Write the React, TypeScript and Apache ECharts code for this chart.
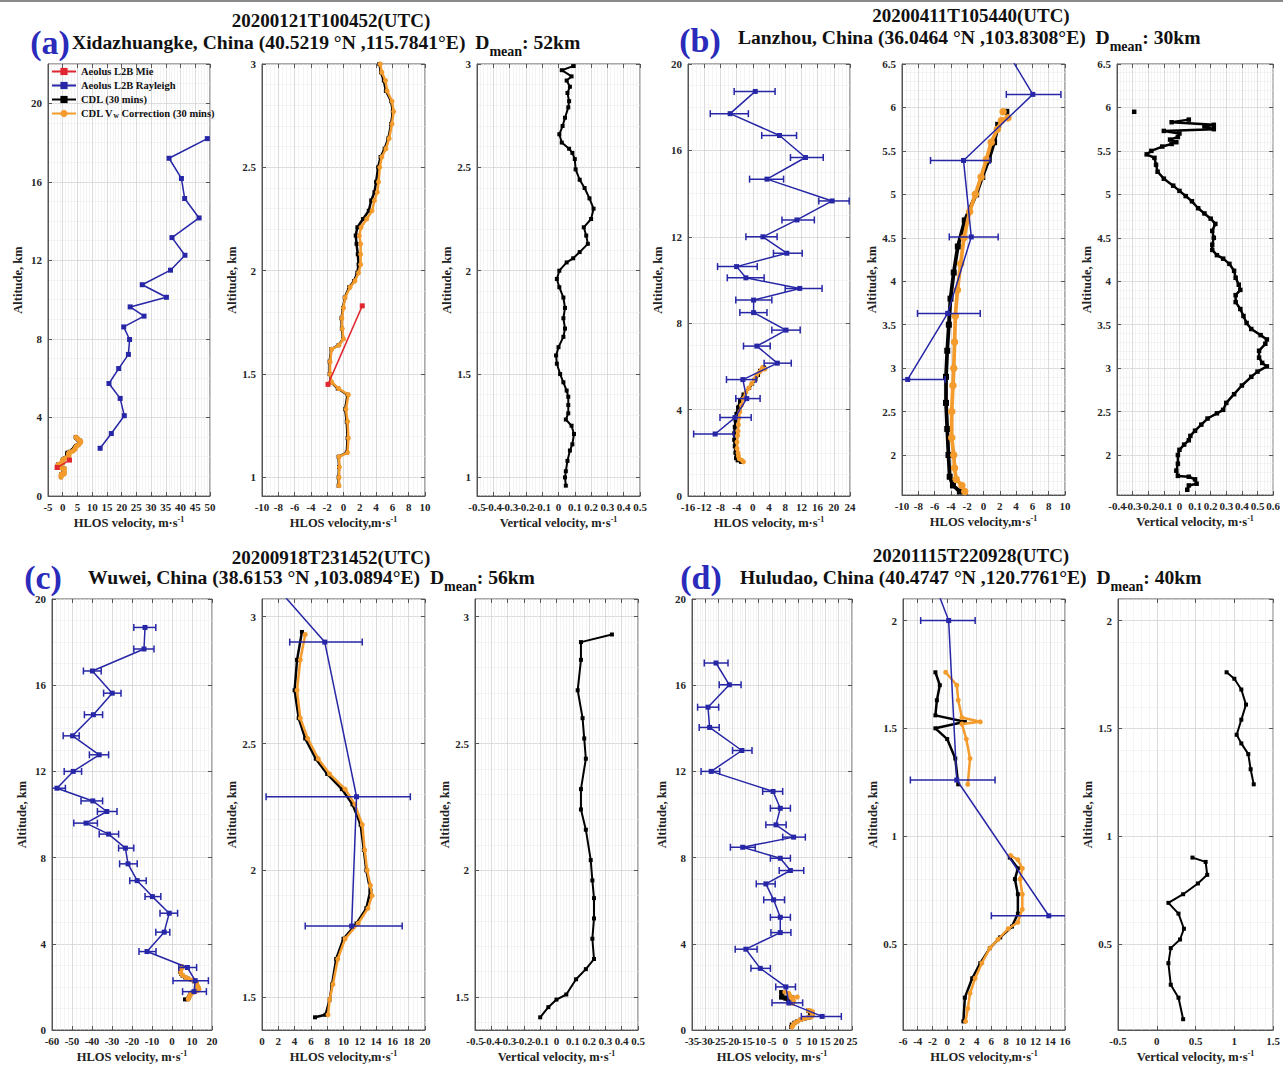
import React, { useEffect, useRef } from 'react';
import * as echarts from 'echarts';

const FONT = "'Liberation Serif', 'Times New Roman', Times, serif";
const BLUE = '#2626a6';
const RED = '#e0262e';
const ORANGE = '#f39b2d';
const BLACK = '#000000';
const LETTER_BLUE = '#2a2abb';

// ---------------- Panel (a) ----------------
const aRayleigh = [
  [12.7, 2.43], [16.5, 3.18], [20.9, 4.09], [19.5, 4.97], [15.7, 5.73], [19.0, 6.49], [22.3, 7.21],
  [22.7, 7.97], [20.7, 8.61], [27.6, 9.16], [22.9, 9.63], [35.2, 10.12], [27.0, 10.76], [36.6, 11.5],
  [41.5, 12.26], [37.1, 13.16], [46.3, 14.16], [41.4, 15.15], [40.3, 16.17], [36.1, 17.2], [49.1, 18.2],
];
const aMie = [[-1.9, 1.45], [2.3, 1.83]];
const aCdlVw = [
  [-0.55, 0.96], [-0.55, 1.0], [-0.5, 1.05], [-0.55, 1.1], [0.5, 1.12], [0.6, 1.19], [0.5, 1.27],
  [0.3, 1.33], [0.6, 1.4], [-0.6, 1.43], [-1.45, 1.46], [-1.65, 1.5], [-1.65, 1.56], [-1.45, 1.62],
  [-0.55, 1.64], [0.0, 1.67], [-0.15, 1.72], [-0.2, 1.77], [0.0, 1.82], [0.2, 1.87], [0.8, 1.92],
  [1.4, 1.95], [1.85, 1.99], [2.1, 2.03], [2.1, 2.08], [2.1, 2.13], [1.95, 2.17], [2.15, 2.21],
  [2.85, 2.25], [3.5, 2.29], [3.8, 2.34], [4.15, 2.38], [4.3, 2.43], [4.45, 2.5], [4.7, 2.55],
  [5.2, 2.59], [5.6, 2.64], [5.95, 2.71], [6.15, 2.77], [5.95, 2.82], [5.35, 2.87], [5.15, 2.92],
  [4.7, 2.96], [4.5, 3.0],
];
const aCdl = [
  [-0.6, 0.96], [-0.6, 1.0], [-0.55, 1.05], [-0.6, 1.1], [0.4, 1.12], [0.5, 1.19], [0.4, 1.27],
  [0.2, 1.33], [0.5, 1.4], [-0.7, 1.43], [-1.5, 1.46], [-1.7, 1.5], [-1.7, 1.56], [-1.5, 1.62],
  [-0.6, 1.64], [-0.05, 1.67], [-0.2, 1.72], [-0.25, 1.77], [-0.05, 1.82], [0.15, 1.87], [0.7, 1.92],
  [1.3, 1.95], [1.7, 1.99], [1.85, 2.03], [1.75, 2.08], [1.6, 2.13], [1.5, 2.17], [1.7, 2.21],
  [2.4, 2.25], [3.1, 2.29], [3.4, 2.34], [3.8, 2.38], [4.0, 2.43], [4.25, 2.5], [4.55, 2.55],
  [5.05, 2.59], [5.5, 2.64], [5.85, 2.71], [6.05, 2.77], [5.85, 2.82], [5.2, 2.87], [4.95, 2.92],
  [4.6, 2.96], [4.4, 3.0],
];
const aVert = [
  [0.045, 0.96], [0.04, 1.0], [0.045, 1.03], [0.055, 1.08], [0.07, 1.13], [0.085, 1.16], [0.095, 1.21],
  [0.08, 1.25], [0.045, 1.28], [0.06, 1.31], [0.06, 1.35], [0.06, 1.39], [0.05, 1.42], [0.03, 1.46],
  [0.01, 1.5], [-0.01, 1.55], [-0.015, 1.59], [0.0, 1.63], [0.03, 1.68], [0.04, 1.72], [0.03, 1.77],
  [0.04, 1.82], [0.03, 1.87], [0.005, 1.92], [-0.01, 1.96], [0.005, 2.0], [0.05, 2.04], [0.09, 2.06],
  [0.13, 2.09], [0.18, 2.13], [0.17, 2.17], [0.155, 2.21], [0.2, 2.25], [0.215, 2.3], [0.19, 2.35],
  [0.16, 2.4], [0.13, 2.44], [0.105, 2.49], [0.1, 2.54], [0.085, 2.57], [0.065, 2.59], [0.02, 2.62],
  [0.005, 2.66], [0.025, 2.7], [0.04, 2.74], [0.06, 2.79], [0.065, 2.82], [0.055, 2.86], [0.07, 2.89],
  [0.05, 2.92], [0.08, 2.94], [0.02, 2.97], [0.09, 2.99],
];

// ---------------- Panel (b) ----------------
// [HLOS, altitude, error low, error high]
const bRayleigh = [
  [-9.3, 2.87, -14.6, -4.7], [-4.4, 3.63, -8.1, -0.4], [-1.5, 4.51, -4.2, 1.8], [-2.45, 5.39, -6.5, 0.8],
  [6.05, 6.15, 2.8, 9.5], [1.0, 6.94, -2.3, 4.3], [8.2, 7.68, 4.7, 11.7], [0.2, 8.49, -3.2, 3.5],
  [0.2, 9.07, -4.2, 4.7], [11.6, 9.61, 8.0, 17.1], [-1.7, 10.1, -6.3, 2.8], [-4.0, 10.62, -8.7, 1.1],
  [8.4, 11.24, 5.1, 12.2], [2.5, 12.0, -1.7, 6.0], [10.9, 12.78, 7.2, 15.2], [19.6, 13.66, 16.3, 23.8],
  [3.5, 14.67, -0.8, 7.6], [13.0, 15.67, 9.3, 17.4], [6.6, 16.69, 2.2, 10.8], [-5.6, 17.7, -10.5, -1.1],
  [0.6, 18.73, -4.6, 5.5],
];
const bCdl = [
  [-2.9, 1.58], [-3.75, 1.65], [-4.15, 1.75], [-4.3, 2.0], [-4.45, 2.3], [-4.6, 2.6], [-4.6, 2.9],
  [-4.45, 3.2], [-4.25, 3.5], [-4.05, 3.8], [-3.65, 4.1], [-3.15, 4.4], [-2.3, 4.7], [-0.9, 5.0],
  [-0.15, 5.2], [0.65, 5.4], [1.3, 5.6], [1.8, 5.8], ['-', '-'], [2.8, 5.95],
];
const bCdlVw = [
  [-2.3, 1.58], [-2.65, 1.65], [-3.35, 1.72], [-3.55, 1.85], [-3.65, 2.0], [-3.9, 2.2], [-3.9, 2.5],
  [-3.75, 2.8], [-3.65, 3.0], [-3.55, 3.3], [-3.45, 3.6], [-3.2, 3.9], [-2.8, 4.2], [-2.4, 4.5],
  [-1.7, 4.8], [-1.0, 5.0], [-0.3, 5.2], [0.35, 5.4], [0.95, 5.6], [1.7, 5.75], [2.2, 5.85],
  [3.0, 5.88], ['-', '-'], [2.4, 5.95],
];
const bVert = [
  [0.05, 1.6], [0.06, 1.65], [0.11, 1.67], [0.1, 1.72], [0.06, 1.75], [-0.01, 1.76], [-0.02, 1.82],
  [-0.01, 1.9], [-0.01, 2.0], [0.0, 2.06], [0.03, 2.12], [0.06, 2.17], [0.07, 2.22], [0.1, 2.28],
  [0.14, 2.35], [0.18, 2.42], [0.24, 2.48], [0.28, 2.52], [0.3, 2.6], [0.35, 2.7], [0.4, 2.8],
  [0.46, 2.9], [0.5, 2.96], [0.56, 3.02], [0.53, 3.06], [0.51, 3.12], [0.51, 3.2], [0.55, 3.28],
  [0.56, 3.33], [0.52, 3.38], [0.46, 3.45], [0.43, 3.52], [0.41, 3.6], [0.39, 3.68], [0.36, 3.76],
  [0.36, 3.84], [0.39, 3.9], [0.38, 3.96], [0.36, 4.04], [0.35, 4.12], [0.32, 4.2], [0.28, 4.26],
  [0.24, 4.3], [0.21, 4.36], [0.21, 4.42], [0.22, 4.5], [0.21, 4.58], [0.23, 4.66], [0.2, 4.72],
  [0.16, 4.78], [0.12, 4.84], [0.08, 4.92], [0.04, 4.98], [0.0, 5.04], [-0.04, 5.1], [-0.1, 5.18],
  [-0.14, 5.26], [-0.15, 5.34], [-0.16, 5.42], [-0.21, 5.46], [-0.18, 5.5], [-0.11, 5.55],
  [-0.05, 5.58], [-0.02, 5.6], [-0.06, 5.63], [-0.01, 5.66], [0.0, 5.7], [-0.1, 5.73], [0.22, 5.75],
  [0.16, 5.78], [0.22, 5.8], [-0.05, 5.83], [0.06, 5.86], ['-', '-'], [-0.29, 5.95],
];

// ---------------- Panel (c) ----------------
const cRayleigh = [
  [-13.5, 18.68, -19.1, -8.1], [-14.0, 17.68, -19.1, -9.0], [-39.8, 16.66, -44.3, -35.4],
  [-29.9, 15.63, -34.2, -25.5], [-39.3, 14.63, -43.8, -34.7], [-49.7, 13.65, -54.4, -46.4],
  [-36.4, 12.77, -41.3, -31.7], [-49.4, 12.0, -53.9, -45.2], [-57.5, 11.22, -62.0, -53.3],
  [-39.6, 10.63, -45.5, -34.7], [-32.6, 10.14, -37.3, -27.5], [-43.0, 9.6, -49.1, -37.3],
  [-31.7, 9.09, -36.4, -26.7], [-23.3, 8.44, -26.7, -19.1], [-22.0, 7.71, -26.2, -17.4],
  [-17.4, 6.93, -21.1, -12.9], [-9.8, 6.19, -13.5, -5.6], [-1.4, 5.42, -6.0, 2.8],
  [-3.9, 4.54, -8.1, -1.1], [-12.5, 3.64, -16.5, -8.0], [7.7, 2.9, 3.4, 12.3],
  [11.6, 2.29, 0.5, 18.2], [11.0, 1.78, 5.3, 17.2],
];
const cCdlVw = [
  [5.3, 2.93], [4.7, 2.83], [4.3, 2.71], [4.7, 2.6], [5.6, 2.52], [6.9, 2.44], [8.3, 2.38],
  [10.2, 2.32], [11.4, 2.26], [12.3, 2.18], [12.6, 2.08], [12.9, 2.0], [13.3, 1.94], [13.5, 1.9],
  [13.0, 1.85], [11.8, 1.79], [10.2, 1.73], [9.3, 1.65], [8.7, 1.55], [8.3, 1.49], [8.1, 1.43],
];
const cCdl = [
  [4.9, 2.94], [4.3, 2.83], [4.0, 2.71], [4.5, 2.6], [5.3, 2.52], [6.6, 2.44], [8.0, 2.38],
  [9.8, 2.32], [11.1, 2.26], [12.1, 2.18], [12.5, 2.08], [12.8, 2.0], [13.3, 1.92], [12.8, 1.85],
  [11.6, 1.79], [10.0, 1.73], [9.1, 1.65], [8.6, 1.55], [8.3, 1.49], [7.8, 1.43], [6.5, 1.42],
];
const cVert = [
  [-0.1, 1.42], [-0.05, 1.46], [0.0, 1.49], [0.06, 1.51], [0.12, 1.57], [0.18, 1.61], [0.23, 1.65],
  [0.22, 1.73], [0.23, 1.81], [0.23, 1.89], [0.22, 1.96], [0.21, 2.04], [0.18, 2.16], [0.15, 2.24],
  [0.15, 2.32], [0.18, 2.44], [0.17, 2.52], [0.16, 2.6], [0.13, 2.71], [0.15, 2.83], [0.15, 2.9],
  [0.34, 2.93],
];

// ---------------- Panel (d) ----------------
const dRayleigh = [
  [-26.0, 17.03, -30.4, -21.5], [-21.0, 16.02, -24.8, -16.6], [-29.0, 14.98, -32.9, -25.0],
  [-28.4, 14.04, -32.3, -24.8], [-16.3, 12.97, -19.8, -12.5], [-27.8, 12.0, -31.6, -24.6],
  [-4.6, 11.07, -8.5, -1.0], [-1.9, 10.29, -5.6, 1.9], [-3.5, 9.52, -7.3, 0.3], [3.1, 8.95, -1.0, 7.5],
  [-16.0, 8.48, -20.6, -11.3], [-1.9, 7.97, -5.6, 1.9], [1.9, 7.4, -2.3, 6.9], [-7.3, 6.78, -10.9, -3.8],
  [-4.4, 6.04, -8.1, -0.3], [-1.9, 5.23, -5.6, 1.9], [-1.9, 4.52, -5.4, 2.1], [-14.8, 3.75, -18.8, -10.6],
  [-9.4, 2.86, -12.9, -5.6], [0.2, 2.0, -3.6, 3.8], [1.3, 1.26, -5.0, 6.5], [13.8, 0.63, 6.0, 21.0],
];
const dCdlVw = [
  [2.5, 0.14], [2.8, 0.2], [3.1, 0.27], [3.8, 0.34], [4.7, 0.41], [5.8, 0.48], [6.9, 0.52], [8.3, 0.57],
  [9.6, 0.6], [10.2, 0.66], [10.2, 0.73], [9.9, 0.8], [10.2, 0.85], [9.6, 0.89], [8.6, 0.91], ['-', '-'],
  [2.8, 1.24], [3.1, 1.36], [2.6, 1.45], [2.0, 1.52], [4.5, 1.53], [2.0, 1.55], [1.5, 1.63], [1.3, 1.7],
  [-0.2, 1.76],
];
const dCdl = [
  [2.2, 0.14], [2.4, 0.25], [3.4, 0.34], [4.5, 0.41], [5.8, 0.48], [7.2, 0.53], [8.8, 0.58], [9.6, 0.64],
  [9.6, 0.73], [9.2, 0.8], [9.6, 0.85], [8.5, 0.9], ['-', '-'], [1.5, 1.24], [1.1, 1.36], [0.0, 1.45],
  [-1.6, 1.5], [2.4, 1.53], [-1.6, 1.56], [-1.4, 1.63], [-1.0, 1.7], [-1.6, 1.76],
];
const dVert = [
  [0.34, 0.15], [0.28, 0.25], [0.18, 0.31], [0.15, 0.41], [0.18, 0.48], [0.3, 0.52], [0.35, 0.57],
  [0.28, 0.64], [0.15, 0.69], [0.34, 0.73], [0.53, 0.78], [0.65, 0.82], [0.63, 0.88], [0.46, 0.9],
  ['-', '-'], [1.25, 1.24], [1.21, 1.31], [1.18, 1.38], [1.09, 1.43], [1.03, 1.47], [1.09, 1.54],
  [1.15, 1.61], [1.09, 1.68], [1.0, 1.73], [0.9, 1.76],
];

// ---------------- Texts ----------------
const dates = ['20200121T100452(UTC)', '20200411T105440(UTC)', '20200918T231452(UTC)', '20201115T220928(UTC)'];
const letters = ['(a)', '(b)', '(c)', '(d)'];
const places = [
  'Xidazhuangke, China (40.5219 °N ,115.7841°E)',
  'Lanzhou, China (36.0464 °N ,103.8308°E)',
  'Wuwei, China (38.6153 °N ,103.0894°E)',
  'Huludao, China (40.4747 °N ,120.7761°E)',
];
const dmeans = ['52km', '30km', '56km', '40km'];
const legendNames = ['Aeolus L2B Mie', 'Aeolus L2B Rayleigh', 'CDL (30 mins)', 'CDL Vw Correction (30 mins)'];
const NAME_HLOS_A = 'HLOS velocity, m·s{sup|-1}';
const NAME_HLOS_B = 'HLOS velocity,m·s{sup|-1}';
const NAME_VERT = 'Vertical velocity, m·s{sup|-1}';
const NAME_ALT = 'Altitude, km';

// ---------------- Layout ----------------
const grids = [
  { left: 48, top: 64, width: 162, height: 432 },
  { left: 262, top: 64, width: 163, height: 432 },
  { left: 477, top: 64, width: 163, height: 432 },
  { left: 688, top: 64, width: 162, height: 432 },
  { left: 902, top: 64, width: 163, height: 431 },
  { left: 1117, top: 64, width: 161, height: 431 },
  { left: 52, top: 599, width: 160, height: 431 },
  { left: 262, top: 599, width: 163, height: 431 },
  { left: 475, top: 599, width: 163, height: 431 },
  { left: 692, top: 599, width: 160, height: 431 },
  { left: 903, top: 599, width: 162, height: 431 },
  { left: 1118, top: 599, width: 160, height: 431 },
];
// x: [min, max, interval, minorSplit]
const xRanges = [
  [-5, 50, 5, 5], [-10, 10, 2, 4], [-0.5, 0.5, 0.1, 5],
  [-16, 24, 4, 4], [-10, 10, 2, 4], [-0.4, 0.6, 0.1, 5],
  [-60, 20, 10, 5], [0, 20, 2, 4], [-0.5, 0.5, 0.1, 5],
  [-35, 25, 5, 5], [-6, 16, 2, 4], [-0.5, 1.5, 0.5, 5],
];
// y: [min, max, interval|null, splitNumber, minorSplit]
const yRanges = [
  [0, 22, 4, 5, 4], [0.91, 3, null, 4, 5], [0.91, 3, null, 4, 5],
  [0, 20, 4, 5, 4], [1.54, 6.5, null, 10, 5], [1.54, 6.5, null, 10, 5],
  [0, 20, 4, 5, 4], [1.37, 3.07, null, 4, 5], [1.37, 3.07, null, 4, 5],
  [0, 20, 4, 5, 4], [0.1, 2.1, null, 4, 5], [0.1, 2.1, null, 4, 5],
];
const xNames = [
  NAME_HLOS_A, NAME_HLOS_B, NAME_VERT,
  NAME_HLOS_A, NAME_HLOS_B, NAME_VERT,
  NAME_HLOS_A, NAME_HLOS_B, NAME_VERT,
  NAME_HLOS_A, NAME_HLOS_B, NAME_VERT,
];

const textBase = { fontFamily: FONT, fontWeight: 'bold' as const, color: '#222' };
const tickLabelStyle = { ...textBase, fontSize: 11, margin: 5, color: '#262626' };
const innerTick = { show: true, inside: true, length: 4, lineStyle: { color: '#555' } };

function isMultiple(v: number, step: number) {
  const r = v / step;
  return Math.abs(r - Math.round(r)) < 1e-6;
}

function parityFormatter(min: number, interval: number, parity: number) {
  return (v: number) => {
    const k = Math.round((v - min) / interval);
    if (k % 2 !== parity) return '';
    const r = Math.round(v * 1000) / 1000;
    return String(r === 0 ? 0 : r);
  };
}

function buildAxes() {
  const xMain: any[] = [];
  const xOdd: any[] = [];
  const xTop: any[] = [];
  const yMain: any[] = [];
  const yRight: any[] = [];
  grids.forEach((_, i) => {
    const [xmin, xmax, xint, xminor] = xRanges[i];
    const [ymin, ymax, yint, ysplit, yminor] = yRanges[i] as any[];
    const xScale = { type: 'value', gridIndex: i, min: xmin, max: xmax, interval: xint };
    // main axis: frame, ticks, grid lines, even-indexed labels
    xMain.push({
      ...xScale, position: 'bottom',
      name: xNames[i], nameLocation: 'middle', nameGap: 19,
      nameTextStyle: {
        ...textBase, fontSize: 12.5, lineHeight: 16,
        rich: { sup: { ...textBase, fontSize: 8, verticalAlign: 'top', lineHeight: 9 } },
      },
      axisLine: { show: true, onZero: false, lineStyle: { color: '#555', width: 1 } },
      axisTick: innerTick,
      axisLabel: { ...tickLabelStyle, showMinLabel: true, showMaxLabel: true, formatter: parityFormatter(xmin, xint, 0) },
      splitLine: { show: true, lineStyle: { color: '#d2d2d2', width: 0.8 } },
      minorTick: { show: false, splitNumber: xminor },
      minorSplitLine: { show: true, lineStyle: { color: '#ededed', width: 0.6 } },
    });
    // companion axis: odd-indexed labels only (so that crowded labels all stay visible)
    xOdd.push({
      ...xScale, position: 'bottom',
      axisLine: { show: false, onZero: false },
      axisTick: { show: false },
      splitLine: { show: false },
      minorSplitLine: { show: false },
      axisLabel: { ...tickLabelStyle, showMinLabel: true, showMaxLabel: true, formatter: parityFormatter(xmin, xint, 1) },
    });
    // mirrored ticks on the top edge
    xTop.push({
      ...xScale, position: 'top',
      axisLine: { show: false, onZero: false },
      axisTick: innerTick,
      axisLabel: { show: false },
      splitLine: { show: false },
      minorSplitLine: { show: false },
    });
    const step = yint !== null ? yint : 0.5;
    const yScale: any = { type: 'value', gridIndex: i, min: ymin, max: ymax };
    if (yint !== null) yScale.interval = yint; else yScale.splitNumber = ysplit;
    yMain.push({
      ...yScale, position: 'left',
      name: NAME_ALT, nameLocation: 'middle', nameGap: 24,
      nameTextStyle: { ...textBase, fontSize: 12.5 },
      axisLine: { show: true, onZero: false, lineStyle: { color: '#555', width: 1 } },
      axisTick: innerTick,
      axisLabel: {
        ...textBase, fontSize: 11, margin: 6, color: '#262626',
        showMinLabel: isMultiple(ymin, step), showMaxLabel: isMultiple(ymax, step),
      },
      splitLine: { show: true, lineStyle: { color: '#d2d2d2', width: 0.8 } },
      minorTick: { show: false, splitNumber: yminor },
      minorSplitLine: { show: true, lineStyle: { color: '#ededed', width: 0.6 } },
    });
    // mirrored ticks on the right edge
    yRight.push({
      ...yScale, position: 'right',
      axisLine: { show: false, onZero: false },
      axisTick: innerTick,
      axisLabel: { show: false },
      splitLine: { show: false },
      minorSplitLine: { show: false },
    });
  });
  return { xAxis: [...xMain, ...xOdd, ...xTop], yAxis: [...yMain, ...yRight] };
}

function lineSeries(name: string, i: number, data: any[], color: string, opts: any = {}) {
  return {
    type: 'line', name, xAxisIndex: i, yAxisIndex: i, data,
    symbol: opts.symbol || 'rect', symbolSize: opts.symbolSize || 4,
    showSymbol: true, clip: true, connectNulls: false,
    lineStyle: { color, width: opts.width || 1.5 },
    itemStyle: { color },
    z: opts.z || 2, silent: true,
  };
}

function errorSeries(i: number, data: number[][]) {
  return {
    type: 'custom', xAxisIndex: i, yAxisIndex: i, clip: true, silent: true, z: 4,
    data: data.map((r) => [r[0], r[1], r[2], r[3]]),
    encode: { x: [2, 3], y: 1 },
    renderItem: (_p: any, api: any) => {
      const y = api.value(1);
      const a = api.coord([api.value(2), y]);
      const b = api.coord([api.value(3), y]);
      const h = 3.5;
      const st = { stroke: BLUE, lineWidth: 1.5 };
      return {
        type: 'group',
        children: [
          { type: 'line', shape: { x1: a[0], y1: a[1], x2: b[0], y2: b[1] }, style: st },
          { type: 'line', shape: { x1: a[0], y1: a[1] - h, x2: a[0], y2: a[1] + h }, style: st },
          { type: 'line', shape: { x1: b[0], y1: b[1] - h, x2: b[0], y2: b[1] + h }, style: st },
        ],
      };
    },
  };
}

function hlosSeries(i: number, cdl: any[], vw: any[], ray: number[][] | null, withErr: boolean, thick = 1) {
  const s: any[] = [
    lineSeries(legendNames[2], i, cdl, BLACK, { width: 2.5 * thick, symbolSize: 4 * thick, z: 2 }),
    lineSeries(legendNames[3], i, vw, ORANGE, { width: 2.5 * thick, symbol: 'circle', symbolSize: 5 * thick, z: 3 }),
  ];
  if (ray) {
    s.push(lineSeries(legendNames[1], i, ray.map((r) => [r[0], r[1]]), BLUE, { width: 1.5, symbolSize: 5, z: 4 }));
    if (withErr) s.push(errorSeries(i, ray));
  }
  return s;
}

function buildSeries() {
  const s: any[] = [];
  // (a)
  s.push(lineSeries(legendNames[0], 0, aMie, RED, { width: 1.5, symbolSize: 5, z: 5 }));
  s.push(...hlosSeries(0, aCdl, aCdlVw, aRayleigh, false));
  s.push(...hlosSeries(1, aCdl, aCdlVw, null, false));
  s.push(lineSeries(legendNames[0], 1, aMie, RED, { width: 1.5, symbolSize: 5, z: 5 }));
  s.push(lineSeries('w_a', 2, aVert, BLACK, { width: 2, symbolSize: 4 }));
  // (b)
  s.push(...hlosSeries(3, bCdl, bCdlVw, bRayleigh, true));
  s.push(...hlosSeries(4, bCdl, bCdlVw, bRayleigh, true, 1.5));
  s.push(lineSeries('w_b', 5, bVert, BLACK, { width: 2.5, symbolSize: 4.5 }));
  // (c)
  s.push(...hlosSeries(6, cCdl, cCdlVw, cRayleigh, true));
  s.push(...hlosSeries(7, cCdl, cCdlVw, cRayleigh, true));
  s.push(lineSeries('w_c', 8, cVert, BLACK, { width: 2, symbolSize: 4 }));
  // (d)
  s.push(...hlosSeries(9, dCdl, dCdlVw, dRayleigh, true));
  s.push(...hlosSeries(10, dCdl, dCdlVw, dRayleigh, true));
  s.push(lineSeries('w_d', 11, dVert, BLACK, { width: 2, symbolSize: 4 }));
  return s;
}

// title positions: [dateCenterX, dateY, letterCenterX, letterY, placeLeftX, placeY]
const titlePos = [
  [331, 20, 50, 42, 72, 42],
  [971, 15, 700, 40, 738, 37],
  [331, 557, 43, 577, 88, 577],
  [971, 555, 701, 577, 740, 577],
];

function buildGraphics() {
  const g: any[] = [
    { type: 'line', shape: { x1: 0, y1: 1, x2: 1283, y2: 1 }, style: { stroke: '#8a8a8a', lineWidth: 2 }, silent: true },
  ];
  titlePos.forEach((p, k) => {
    g.push({
      type: 'text', x: p[0], y: p[1], silent: true,
      style: { text: dates[k], fill: '#111', font: `bold 19px ${FONT}`, align: 'center', verticalAlign: 'middle', textAlign: 'center', textVerticalAlign: 'middle' },
    });
    g.push({
      type: 'text', x: p[2], y: p[3], silent: true,
      style: { text: letters[k], fill: LETTER_BLUE, font: `bold 34px ${FONT}`, align: 'center', verticalAlign: 'middle', textAlign: 'center', textVerticalAlign: 'middle' },
    });
    g.push({
      type: 'text', x: p[4], y: p[5], silent: true,
      style: {
        text: `${places[k]}  D{sub|mean}: ${dmeans[k]}`,
        fill: '#111', fontFamily: FONT, fontWeight: 'bold', fontSize: 19.6, lineHeight: 32,
        align: 'left', verticalAlign: 'middle', textAlign: 'left', textVerticalAlign: 'middle',
        rich: {
          sub: { fontFamily: FONT, fontWeight: 'bold', fontSize: 14, lineHeight: 15, verticalAlign: 'bottom', fill: '#111' },
        },
      },
    });
  });
  return g;
}

function buildOption() {
  const { xAxis, yAxis } = buildAxes();
  return {
    animation: false,
    backgroundColor: '#ffffff',
    grid: grids.map((gr) => ({ ...gr, show: true, borderColor: '#555', borderWidth: 1, backgroundColor: '#fff', containLabel: false })),
    xAxis,
    yAxis,
    legend: {
      show: true, orient: 'vertical', left: 50, top: 65, padding: 1, itemGap: 3,
      itemWidth: 24, itemHeight: 9, data: legendNames, selectedMode: false,
      textStyle: {
        fontFamily: FONT, fontWeight: 'bold', fontSize: 10.5, color: '#111',
        rich: { sub: { fontFamily: FONT, fontWeight: 'bold', fontSize: 7.5, verticalAlign: 'bottom', lineHeight: 8 } },
      },
      formatter: (name: string) => (name === legendNames[3] ? 'CDL V{sub|w} Correction (30 mins)' : name),
    },
    graphic: buildGraphics(),
    series: buildSeries(),
  };
}

export default function App() {
  const ref = useRef<HTMLDivElement>(null);
  useEffect(() => {
    if (!ref.current) return;
    const chart = echarts.init(ref.current, null, { renderer: 'svg' });
    chart.setOption(buildOption() as any);
    return () => chart.dispose();
  }, []);
  return (
    <div
      ref={ref}
      style={{ position: 'absolute', left: 0, top: 0, width: 1283, height: 1066, background: '#fff' }}
    />
  );
}
